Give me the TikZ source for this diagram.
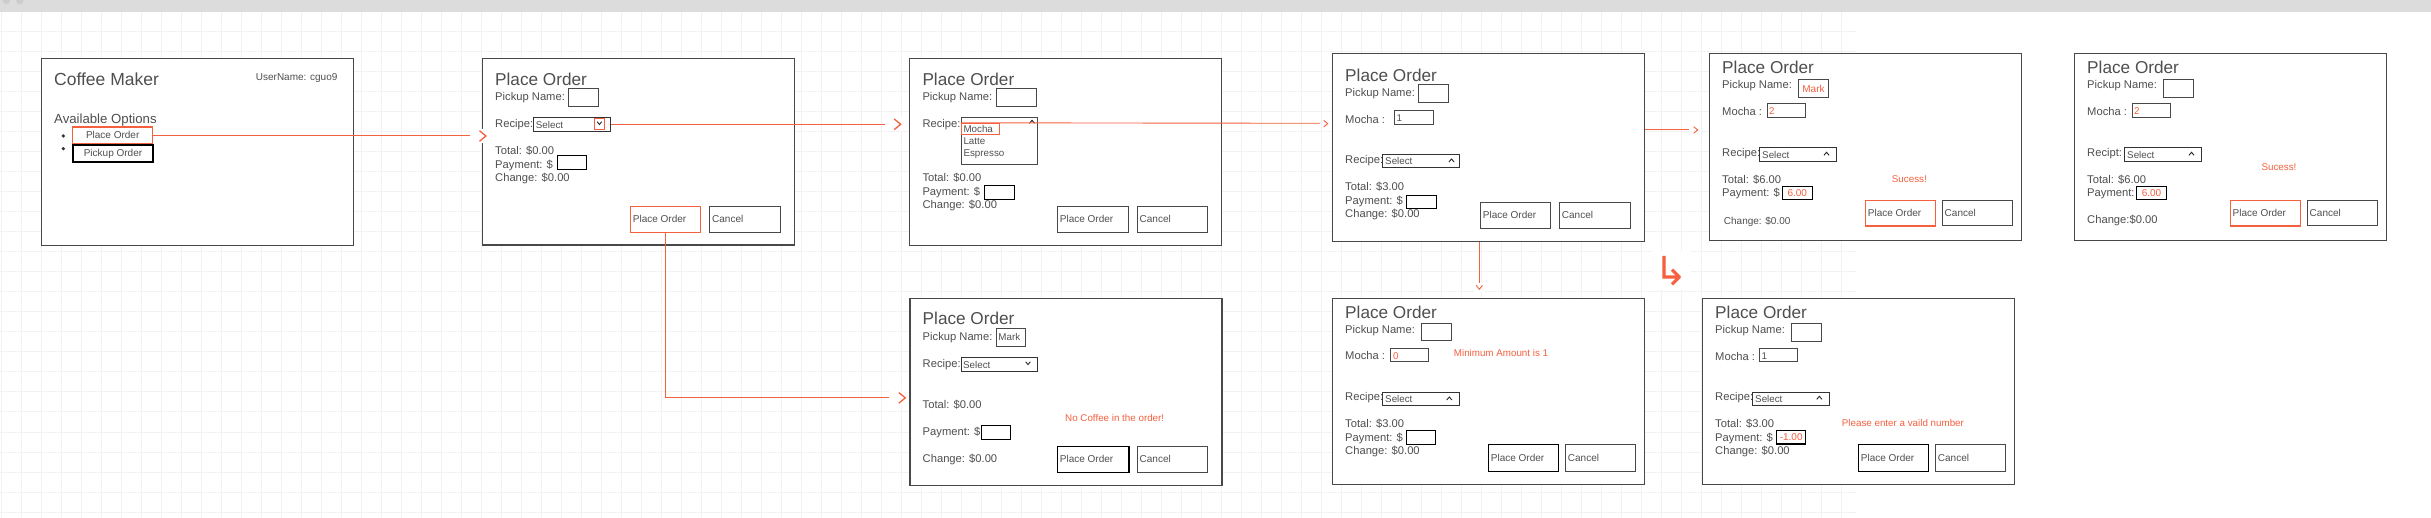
\documentclass[tikz,border=0pt]{standalone}
\usepackage{fontspec}
\setmainfont{Liberation Sans}
\newfontfamily\djv{DejaVu Sans}
\usetikzlibrary{fit,calc}
\definecolor{txt}{HTML}{4F4F4F}
\definecolor{frm}{HTML}{484848}
\definecolor{rd}{HTML}{F5603F}
\definecolor{gridc}{HTML}{F2F2F2}
\definecolor{barc}{HTML}{DCDCDC}
\definecolor{dotc}{HTML}{CDCDCD}
\newcommand\bx[3]{\node[#1, fit={#3}, inner sep=0pt] (#2) {};}
\newcommand\tx[4]{\node[#1] (#2) at (#3) {#4};}
\newcommand\caretU[2]{\draw[caretst] ($(#1,#2)+(-2.6,0)$) -- ($(#1,#2)+(0,-3)$) -- ($(#1,#2)+(2.6,0)$);}
\newcommand\caretD[2]{\draw[caretst] ($(#1,#2)+(-2.3,-1.5)$) -- ($(#1,#2)+(0,1.3)$) -- ($(#1,#2)+(2.3,-1.5)$);}
\begin{document}
\begin{tikzpicture}[x=1pt,y=-1pt,
  frame/.style={draw=frm, fill=white, line width=1.2pt},
  gbox/.style={draw=frm, line width=1pt},
  kbox/.style={draw=black, line width=1.2pt},
  kbtn/.style={draw=black, line width=1.5pt},
  rbox/.style={draw=rd, line width=1.2pt},
  lbl/.style={anchor=base west, inner sep=0pt, text=txt, font=\fontsize{11.2}{13}\selectfont},
  ttl/.style={lbl, font=\fontsize{17.2}{20}\selectfont},
  btxt/.style={lbl, font=\fontsize{10}{12}\selectfont},
  stxt/.style={lbl, font=\fontsize{9.8}{12}\selectfont},
  rtxt/.style={stxt, text=rd},
  ctxt/.style={inner sep=0pt, text=txt, font=\fontsize{10}{12}\selectfont},
  rctxt/.style={ctxt, text=rd},
  conn/.style={draw=rd, line width=1.3pt},
  thinc/.style={draw=rd, line width=0.9pt},
  caretst/.style={draw=black!85, line width=0.9pt},
  chevR/.pic={\fill[white] (-16,-7) rectangle (4,7); \draw[conn] (-6.5,-5.3) -- (0,0) -- (-6.5,5.3);},
  chevRs/.pic={\fill[white] (-6,-5) rectangle (3,5); \draw[thinc] (-4,-3.3) -- (0,0) -- (-4,3.3);},
  chevD/.pic={\fill[white] (-5,-6) rectangle (5,3); \draw[thinc] (-3.2,-4) -- (0,0) -- (3.2,-4);}
]
\useasboundingbox (0,0) rectangle (2431,518);
\fill[white] (0,0) rectangle (2431,518);
% grid
\foreach \gx in {1,21,...,1841} \draw[gridc, line width=1pt] (\gx,12) -- (\gx,518);
\foreach \gy in {32,52,...,512} \draw[gridc, line width=1pt] (0,\gy) -- (1856,\gy);
% top bar
\fill[barc] (0,0) rectangle (2431,12);
\fill[dotc] (6.3,0.5) circle (3.8);
\fill[dotc] (19.8,0.5) circle (3.8);

%%%% Panel 1
\bx{frame}{p1}{(41.3,58.7)(353.3,245.3)}
\tx{ttl, font=\fontsize{17.5}{20}\selectfont}{p1t}{54,86}{Coffee Maker}
\tx{stxt, font=\fontsize{10}{12}\selectfont}{p1u}{255.7,81}{UserName: cguo9}
\tx{lbl, font=\fontsize{13.2}{15}\selectfont}{p1a}{54,123.7}{Available Options}
\fill[black!80] (63.3,136) circle (1.8);
\fill[black!80] (63.3,148.7) circle (1.8);
\node[rbox, fit={(72.7,127)(152.7,143.7)}, inner sep=0pt, label={[ctxt]center:Place Order}] (p1place) {};
\node[draw=black, line width=2pt, fit={(72.7,144.7)(153.3,162.3)}, inner sep=0pt, label={[ctxt]center:Pickup Order}] (p1pick) {};

%%%% Panel 2
\bx{frame}{p2}{(482.3,58.3)(794.7,245)}
\tx{ttl}{p2t}{495,85.7}{Place Order}
\tx{lbl}{p2pn}{495,100.7}{Pickup Name:}
\bx{gbox}{p2name}{(568.3,88.3)(598.7,106.3)}
\tx{lbl}{p2r}{495,128}{Recipe:}
\bx{kbox, draw=black!80, line width=1pt}{p2sel}{(533.3,117.3)(610.7,131.3)}
\tx{stxt}{p2selt}{535.7,128.3}{Select}
\bx{rbox, line width=1pt}{p2drop}{(594.3,119)(604.7,129.3)}
\caretD{599.4}{123.2}
\tx{lbl}{p2tot}{495,154.3}{Total: \$0.00}
\tx{lbl}{p2pay}{495,168.3}{Payment: \$}
\bx{kbox}{p2payb}{(557.3,155.3)(586.7,169.3)}
\tx{lbl}{p2chg}{495,181.7}{Change: \$0.00}
\bx{rbox}{p2po}{(630.3,206.3)(700.7,232.3)}
\tx{btxt}{p2pot}{632.7,222.7}{Place Order}
\bx{gbox}{p2ca}{(709.3,206.3)(780.7,232.3)}
\tx{btxt}{p2cat}{712,222.7}{Cancel}

%%%% Panel 3
\bx{frame}{p3}{(909.3,58.3)(1221.3,245.3)}
\tx{ttl}{p3t}{922.3,85.7}{Place Order}
\tx{lbl}{p3pn}{922.3,100.7}{Pickup Name:}
\bx{gbox}{p3name}{(996.3,88.3)(1036.7,106.3)}
\tx{lbl}{p3r}{922.3,128}{Recipe:}
\bx{gbox}{p3list}{(961.3,117.3)(1037.3,164.3)}
\caretU{1032}{123.3}
\bx{rbox, line width=1pt}{p3mocha}{(961.3,123.3)(999.3,134.3)}
\tx{stxt}{p3m}{963.3,132.3}{Mocha}
\tx{stxt}{p3l}{963.3,144.7}{Latte}
\tx{stxt}{p3e}{963.3,156.3}{Espresso}
\tx{lbl}{p3tot}{922.3,181.7}{Total: \$0.00}
\tx{lbl}{p3pay}{922.3,195.7}{Payment: \$}
\bx{kbox}{p3payb}{(984.3,185.3)(1014.7,199.3)}
\tx{lbl}{p3chg}{922.3,208.3}{Change: \$0.00}
\bx{gbox}{p3po}{(1057.3,206.3)(1128.7,232.3)}
\tx{btxt}{p3pot}{1059.7,222.7}{Place Order}
\bx{gbox}{p3ca}{(1137.3,206.3)(1207.7,232.3)}
\tx{btxt}{p3cat}{1139.5,222.7}{Cancel}

%%%% Panel 4 (top)
\bx{frame}{p4}{(1332.3,53.7)(1644.7,241.3)}
\tx{ttl}{p4t}{1345,81.7}{Place Order}
\tx{lbl}{p4pn}{1345,96.7}{Pickup Name:}
\bx{gbox}{p4name}{(1418.3,84.3)(1448.7,102.3)}
\tx{lbl}{p4m}{1345,123.3}{Mocha :}
\bx{gbox}{p4mb}{(1394.3,110.3)(1433.7,124.3)}
\tx{stxt}{p4mv}{1396.5,122}{1}
\tx{lbl}{p4r}{1345,163.3}{Recipe:}
\bx{kbox, draw=black!80, line width=1pt}{p4sel}{(1382.3,154.3)(1459.7,167.7)}
\tx{stxt}{p4selt}{1385,164.8}{Select}
\caretU{1451.5}{162}
\tx{lbl}{p4tot}{1345,190.7}{Total: \$3.00}
\tx{lbl}{p4pay}{1345,204.7}{Payment: \$}
\bx{kbox}{p4payb}{(1406.3,195.3)(1436.7,208.7)}
\tx{lbl}{p4chg}{1345,217.7}{Change: \$0.00}
\bx{gbox}{p4po}{(1480.3,202.3)(1550.7,228.3)}
\tx{btxt}{p4pot}{1482.7,218.7}{Place Order}
\bx{gbox}{p4ca}{(1559.3,202.3)(1630.7,228.3)}
\tx{btxt}{p4cat}{1561.7,218.7}{Cancel}

%%%% Panel 5
\bx{frame}{p5}{(1709.3,53.7)(2021.3,240.3)}
\tx{ttl}{p5t}{1722,74}{Place Order}
\tx{lbl}{p5pn}{1722,88.7}{Pickup Name:}
\node[gbox, fit={(1798.3,79.7)(1828.7,97.7)}, inner sep=0pt, label={[rctxt]center:Mark}] (p5name) {};
\tx{lbl}{p5m}{1722,115.3}{Mocha :}
\bx{gbox}{p5mb}{(1767.3,103.3)(1805.7,117.3)}
\tx{rtxt}{p5mv}{1769,115}{2}
\tx{lbl}{p5r}{1722,156.7}{Recipe:}
\bx{kbox, draw=black!80, line width=1pt}{p5sel}{(1759.3,147.7)(1836.3,161.3)}
\tx{stxt}{p5selt}{1762,158.2}{Select}
\caretU{1826.5}{155.3}
\tx{lbl}{p5tot}{1722,183.3}{Total: \$6.00}
\tx{lbl}{p5pay}{1722,196.7}{Payment: \$}
\node[kbox, fit={(1782.3,186.7)(1812.3,199.3)}, inner sep=0pt, label={[rctxt]center:6.00}] (p5payb) {};
\tx{btxt}{p5chg}{1723.7,225}{Change: \$0.00}
\tx{rtxt}{p5ok}{1891.7,182.7}{Sucess!}
\bx{rbox}{p5po}{(1865.3,200.7)(1935.3,226)}
\tx{btxt}{p5pot}{1867.7,217}{Place Order}
\bx{gbox}{p5ca}{(1942.3,200.7)(2012.3,226)}
\tx{btxt}{p5cat}{1944.5,217}{Cancel}

%%%% Panel 6
\bx{frame}{p6}{(2074.3,53.3)(2386.7,240.3)}
\tx{ttl}{p6t}{2087,74}{Place Order}
\tx{lbl}{p6pn}{2087,88.7}{Pickup Name:}
\bx{gbox}{p6name}{(2163.3,79.7)(2193.7,97.7)}
\tx{lbl}{p6m}{2087,115.3}{Mocha :}
\bx{gbox}{p6mb}{(2132.3,103.3)(2170.3,117.3)}
\tx{rtxt}{p6mv}{2134,115}{2}
\tx{lbl}{p6r}{2087,156.7}{Recipt:}
\bx{kbox, draw=black!80, line width=1pt}{p6sel}{(2124.3,147.7)(2201.7,161.3)}
\tx{stxt}{p6selt}{2127,158.2}{Select}
\caretU{2191.5}{155.3}
\tx{rtxt}{p6ok}{2261.3,170.7}{Sucess!}
\tx{lbl}{p6tot}{2087,183.3}{Total: \$6.00}
\tx{lbl}{p6pay}{2087,196.7}{Payment:}
\node[kbox, fit={(2136.3,186.7)(2166.7,199.3)}, inner sep=0pt, label={[rctxt]center:6.00}] (p6payb) {};
\tx{lbl}{p6chg}{2087,224}{Change:\$0.00}
\bx{rbox}{p6po}{(2230.3,200.7)(2300.3,226)}
\tx{btxt}{p6pot}{2232.5,217}{Place Order}
\bx{gbox}{p6ca}{(2307.3,200.7)(2377.7,226)}
\tx{btxt}{p6cat}{2309.5,217}{Cancel}

%%%% Panel bottom-left (no coffee)
\bx{frame}{q1}{(909.9,298.3)(1221.9,485.3)}
\tx{ttl}{q1t}{922.5,325}{Place Order}
\tx{lbl}{q1pn}{922.5,341}{Pickup Name:}
\bx{gbox}{q1name}{(996.4,328.3)(1025.9,346.3)}
\tx{stxt}{q1nv}{998.2,341}{Mark}
\tx{lbl}{q1r}{922.5,367.7}{Recipe:}
\bx{kbox, draw=black!80, line width=1pt}{q1sel}{(961.2,357.3)(1037.8,371.3)}
\tx{stxt}{q1selt}{963,368.3}{Select}
\caretD{1028}{363.3}
\tx{lbl}{q1tot}{922.5,408.3}{Total: \$0.00}
\tx{rtxt}{q1msg}{1065,421.7}{No Coffee in the order!}
\tx{lbl}{q1pay}{922.5,435.7}{Payment: \$}
\bx{kbox}{q1payb}{(981.5,425.3)(1010.6,439.3)}
\tx{lbl}{q1chg}{922.5,462.7}{Change: \$0.00}
\bx{kbtn}{q1po}{(1057.3,446.3)(1128.9,472.3)}
\tx{btxt}{q1pot}{1059.7,462.7}{Place Order}
\bx{gbox}{q1ca}{(1137.3,446.3)(1207.8,472.3)}
\tx{btxt}{q1cat}{1139.5,462.7}{Cancel}

%%%% Panel 7 (minimum amount)
\bx{frame}{q2}{(1332.3,298.7)(1644.7,484.3)}
\tx{ttl}{q2t}{1345,318.7}{Place Order}
\tx{lbl}{q2pn}{1345,333.3}{Pickup Name:}
\bx{gbox}{q2name}{(1421.3,323.3)(1451.7,341)}
\tx{lbl}{q2m}{1345,360}{Mocha :}
\bx{gbox}{q2mb}{(1390.3,348.3)(1428.7,361.7)}
\tx{rtxt}{q2mv}{1393,359.5}{0}
\tx{rtxt}{q2msg}{1453.7,357}{Minimum Amount is 1}
\tx{lbl}{q2r}{1345,400}{Recipe:}
\bx{kbox, draw=black!80, line width=1pt}{q2sel}{(1382.3,392.3)(1459.7,405.3)}
\tx{stxt}{q2selt}{1385,402.8}{Select}
\caretU{1449.3}{400}
\tx{lbl}{q2tot}{1345,427.3}{Total: \$3.00}
\tx{lbl}{q2pay}{1345,441.3}{Payment: \$}
\bx{kbox}{q2payb}{(1406.3,430.3)(1435.7,444.3)}
\tx{lbl}{q2chg}{1345,454.3}{Change: \$0.00}
\bx{kbtn}{q2po}{(1488.3,444.3)(1558.7,471.3)}
\tx{btxt}{q2pot}{1490.7,461.5}{Place Order}
\bx{gbox}{q2ca}{(1565.3,444.3)(1635.7,471.3)}
\tx{btxt}{q2cat}{1567.7,461.5}{Cancel}

%%%% Panel 8 (invalid number)
\bx{frame}{q3}{(1702.3,298.7)(2014.7,484.3)}
\tx{ttl}{q3t}{1715,318.7}{Place Order}
\tx{lbl}{q3pn}{1715,333.3}{Pickup Name:}
\bx{gbox}{q3name}{(1791.3,323.3)(1821.7,341.3)}
\tx{lbl}{q3m}{1715,360.7}{Mocha :}
\bx{gbox}{q3mb}{(1759.3,348.7)(1797.7,361.3)}
\tx{stxt}{q3mv}{1761.5,359.5}{1}
\tx{lbl}{q3r}{1715,400.7}{Recipe:}
\bx{kbox, draw=black!80, line width=1pt}{q3sel}{(1752.3,392.3)(1829.7,405.3)}
\tx{stxt}{q3selt}{1755,402.8}{Select}
\caretU{1819.3}{399.3}
\tx{lbl}{q3tot}{1715,427.7}{Total: \$3.00}
\tx{rtxt}{q3msg}{1841.7,426.7}{Please enter a vaild number}
\tx{lbl}{q3pay}{1715,441.7}{Payment: \$}
\node[kbox, fit={(1776.7,430.3)(1805.7,444)}, inner sep=0pt, label={[rctxt]center:-1.00}] (q3payb) {};
\tx{lbl}{q3chg}{1715,454.3}{Change: \$0.00}
\bx{kbtn}{q3po}{(1858.3,444.3)(1928.3,471.3)}
\tx{btxt}{q3pot}{1860.7,461.5}{Place Order}
\bx{gbox}{q3ca}{(1935.3,444.3)(2005.7,471.3)}
\tx{btxt}{q3cat}{1937.7,461.5}{Cancel}

%%%% Connectors
\coordinate (a1end) at (470,136);
\coordinate (a1tip) at (486,136);
\draw[conn] (p1place.east) -- (p1place.east -| a1end);
\pic at (a1tip) {chevR};

\coordinate (a2end) at (885,124);
\coordinate (a2tip) at (900.7,124.3);
\draw[conn] (p2sel.east) -- (p2sel.east -| a2end);
\pic at (a2tip) {chevR};

\coordinate (a3end) at (890,397.7);
\coordinate (a3tip) at (905.3,397.9);
\draw[conn] (p2po.south) |- (a3end);
\pic at (a3tip) {chevR};

\coordinate (a4end) at (1320,123.3);
\coordinate (a4tip) at (1327.7,123.6);
\draw[thinc] (p3mocha.north west) -- (a4end);
\pic at (a4tip) {chevRs};

\coordinate (a5end) at (1689,130);
\coordinate (a5tip) at (1697.7,130);
\draw[thinc, line width=1pt] (p4.east |- a5end) -- (a5end);
\pic at (a5tip) {chevRs};

\coordinate (a6end) at (1479.3,283);
\coordinate (a6tip) at (1479.3,289.3);
\draw[thinc] (a6end |- p4.south) -- (a6end);
\pic at (a6tip) {chevD};

% turn arrow symbol
\fill[white] (1652,251) rectangle (1691,290);
\node[inner sep=0pt, text=rd, font=\djv\fontsize{40}{40}\selectfont] (turn) at (1671,271) {↳};
\end{tikzpicture}
\end{document}
